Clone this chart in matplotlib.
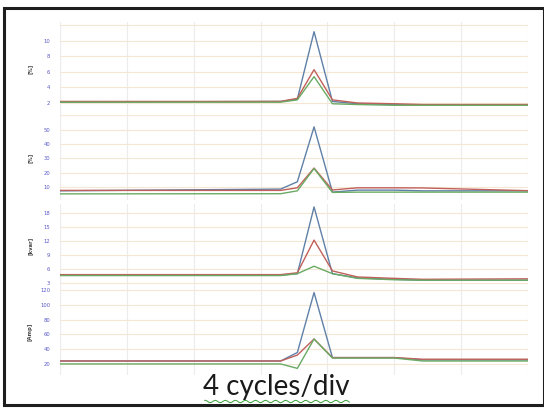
import numpy as np
import matplotlib.pyplot as plt
from matplotlib.patches import Rectangle

# sample instants, in cycles
cycle = [0, 13.2, 14.2, 15.2, 16.3, 17.8, 20.0, 21.7, 28]

# panel 1
p1_blue = [2.1, 2.2, 2.5, 11.2, 2.2, 1.9, 1.8, 1.7, 1.7]
p1_red = [2.2, 2.2, 2.6, 6.3, 2.4, 2.0, 1.9, 1.8, 1.8]
p1_green = [2.1, 2.1, 2.4, 5.4, 1.9, 1.8, 1.7, 1.7, 1.7]

# panel 2
p2_blue = [7.5, 8.7, 13.8, 51.9, 6.6, 8.0, 8.0, 7.5, 7.5]
p2_red = [7.8, 7.8, 9.6, 23.3, 8.1, 9.6, 9.6, 9.5, 7.6]
p2_green = [5.4, 5.5, 7.5, 23.0, 6.4, 6.6, 6.6, 6.6, 6.6]

# panel 3
p3_blue = [4.7, 4.7, 5.0, 19.3, 5.0, 4.1, 3.8, 3.6, 3.6]
p3_red = [4.8, 4.8, 5.2, 12.2, 5.6, 4.3, 4.0, 3.8, 3.9]
p3_green = [4.6, 4.6, 5.0, 6.6, 5.0, 4.0, 3.7, 3.6, 3.6]

# panel 4
p4_blue = [24, 24, 35.5, 116.8, 28.6, 28.6, 28.6, 25.5, 25.5]
p4_red = [24, 24, 32, 53.8, 28.6, 28.6, 28.6, 26.4, 26.4]
p4_green = [20, 20, 14, 53.8, 28, 28, 28, 24, 24]

units = ['[%]', '[%]', '[kvar]', '[Amp]']
yticks = [[2, 4, 6, 8, 10, 12], [10, 20, 30, 40, 50, 60],
          [3, 6, 9, 12, 15, 18], [20, 40, 60, 80, 100, 120]]
ylims = [(0.5, 12.4), (1, 55), (2, 20), (5, 123)]
# panel top/bottom in pixels
rows = [(22.4, 114.6), (115.2, 200.2), (203.7, 287.7), (288, 375)]

series = [(p1_blue, p1_red, p1_green), (p2_blue, p2_red, p2_green),
          (p3_blue, p3_red, p3_green), (p4_blue, p4_red, p4_green)]

W, H = 544, 408
fig = plt.figure(figsize=(W / 100, H / 100), dpi=100)
fig.patch.set_facecolor('white')

x0, x1 = 60, 528
for i, (top, bot) in enumerate(rows):
    ax = fig.add_axes([x0 / W, 1 - bot / H, (x1 - x0) / W, (bot - top) / H])
    ax.set_facecolor('none')
    b, r, g = series[i]
    ax.plot(cycle, b, color='#5f80a8', lw=1.0, zorder=3)
    ax.plot(cycle, r, color='#c0605a', lw=1.0, zorder=3)
    ax.plot(cycle, g, color='#6aaa64', lw=1.0, zorder=3)
    ax.set_xlim(0, 28)
    ax.set_ylim(*ylims[i])
    ax.set_xticks(np.arange(0, 29, 4))
    ax.set_xticklabels([])
    ax.set_yticks(yticks[i])
    labels = [str(v) for v in yticks[i]]
    if i < 2:
        labels[-1] = ''
    ax.set_yticklabels(labels)
    ax.tick_params(length=0, pad=7, labelsize=3.8, labelcolor='#5a5ac8')
    ax.grid(axis='y', color='#f4e8d4', lw=0.8)
    ax.grid(axis='x', color='#ececec', lw=0.8)
    for s in ax.spines.values():
        s.set_visible(False)
    ax.set_ylabel(units[i], fontsize=3.8, color='#444444', fontweight='bold')
    ax.yaxis.set_label_coords(-0.058, 0.5)

# caption with spell-check squiggle
cap = fig.text(276 / W, 1 - 387 / H, '4 cycles/div', fontsize=20,
               family='Lato', color='#1a1a1a', ha='center', va='center')
fig.canvas.draw()
bb = cap.get_window_extent()
sx = np.linspace(bb.x0 + 2, bb.x1, 140)
sy = bb.y0 - 1.5 + 1.2 * np.sin((sx - bb.x0) / 1.6)
fig.add_artist(plt.Line2D(sx / W, sy / H, color='#3aa03a', lw=0.7))

# screenshot frame
fig.add_artist(Rectangle((4 / W, 1 - 405 / H), 540 / W, 397 / H,
                         fill=False, edgecolor='#1e1e1e', lw=2.2,
                         transform=fig.transFigure))

fig.savefig('out.png', dpi=100, facecolor='white')
